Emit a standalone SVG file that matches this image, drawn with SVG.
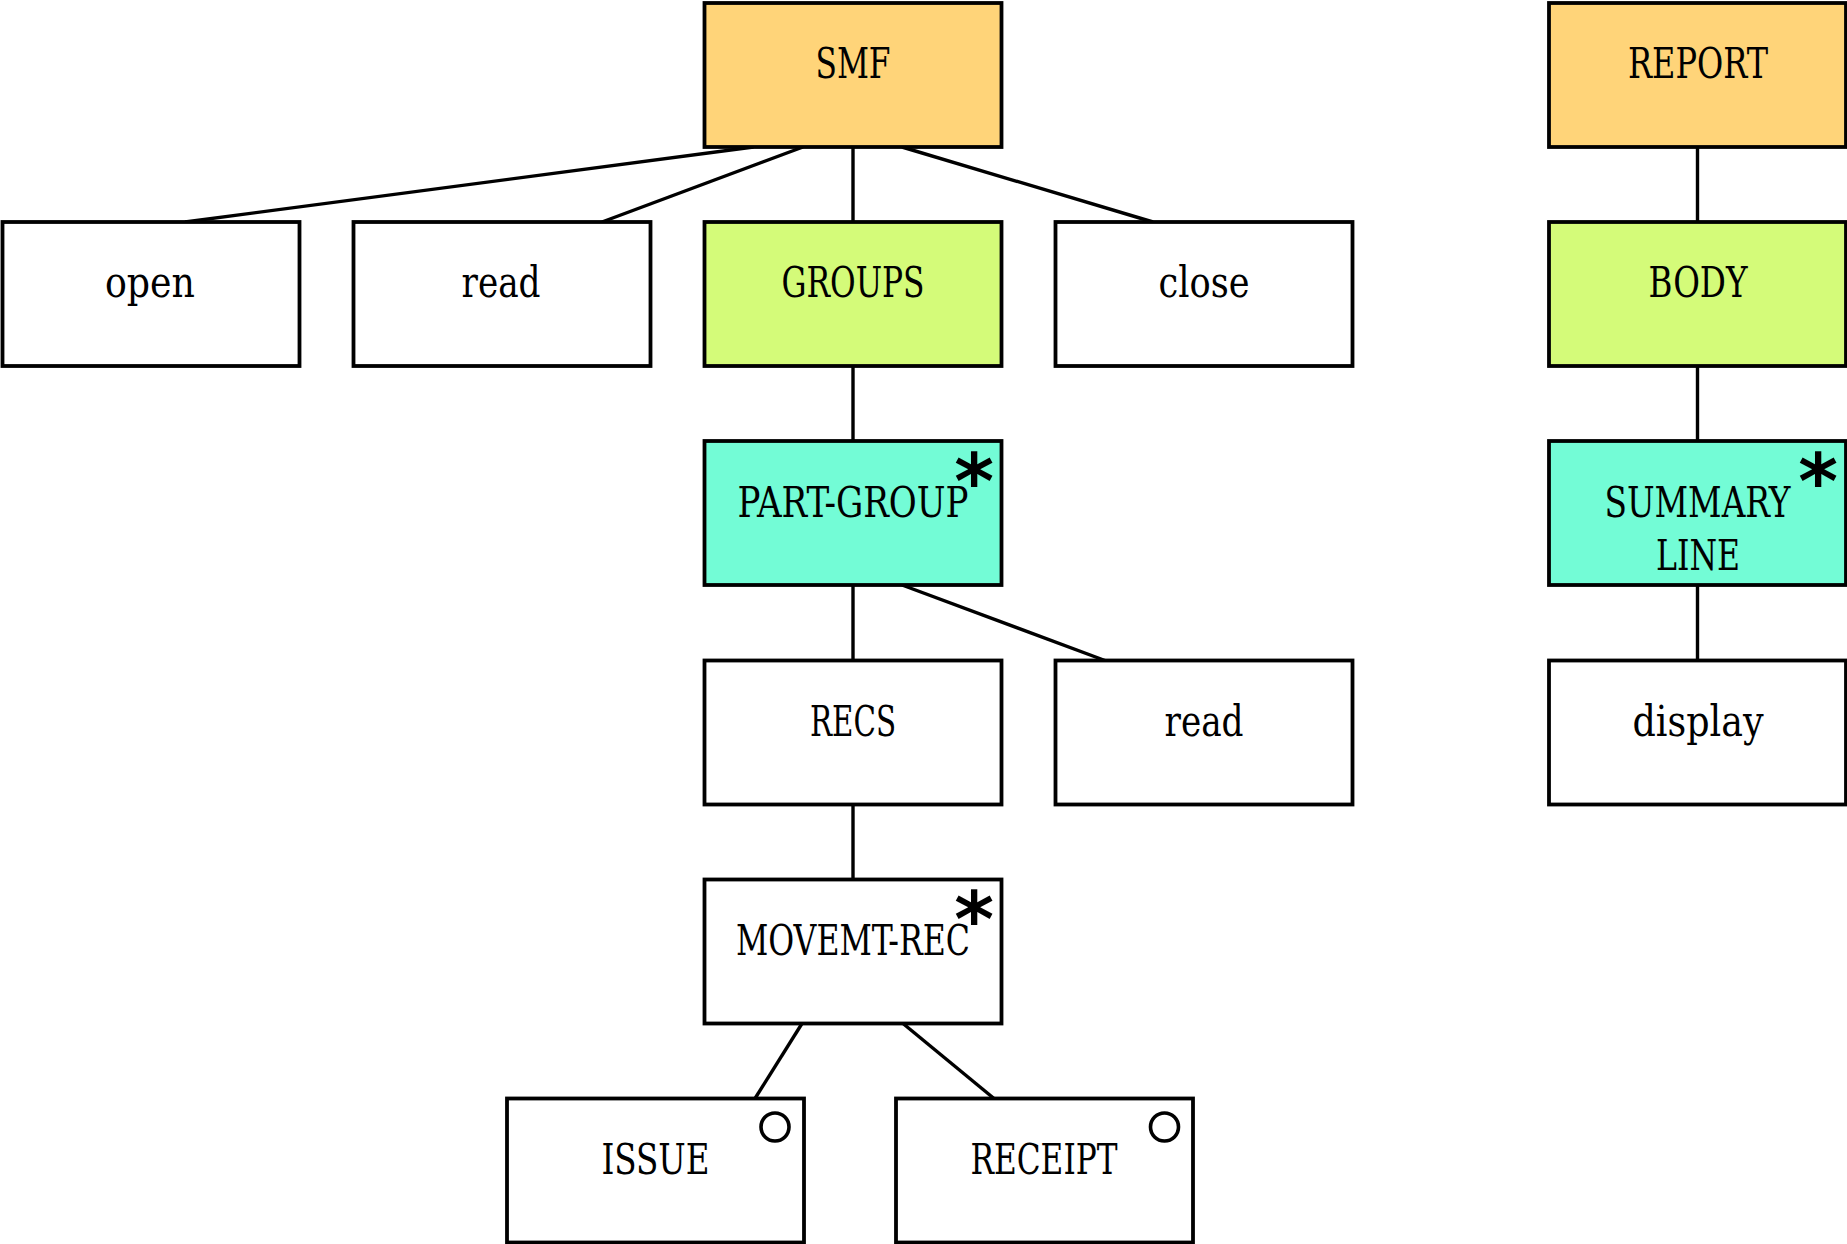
<svg xmlns="http://www.w3.org/2000/svg" width="1847" height="1244" viewBox="0 0 1847 1244">
<style>
.box{stroke:#000;stroke-width:3.8}
.w{fill:#fff}
.o{fill:#FFD479}
.g{fill:#D4FB79}
.t{fill:#73FCD6}
.lbl{font-family:"DejaVu Serif Condensed","DejaVu Serif","Liberation Serif",serif;font-stretch:condensed;font-size:42px;fill:#000;text-anchor:middle}
.ast{font-family:"DejaVu Sans","Liberation Sans",sans-serif;font-size:76px;font-weight:bold;fill:#000;text-anchor:middle}
.opt{fill:none;stroke:#000;stroke-width:3.6}
#connectors line{stroke:#000;stroke-width:3.4}
</style>
<rect width="1847" height="1244" fill="#fff"/>
<g id="connectors">
<line x1="753.5" y1="147" x2="185" y2="222"/>
<line x1="803" y1="147" x2="602" y2="222"/>
<line x1="853" y1="147" x2="853" y2="222"/>
<line x1="902" y1="147" x2="1153" y2="222"/>
<line x1="853" y1="366" x2="853" y2="441"/>
<line x1="853" y1="585" x2="853" y2="660.5"/>
<line x1="902" y1="585" x2="1105" y2="660.5"/>
<line x1="853" y1="804.5" x2="853" y2="879.5"/>
<line x1="802" y1="1023.5" x2="755" y2="1098.5"/>
<line x1="903" y1="1023.5" x2="994" y2="1098.5"/>
<line x1="1697.5" y1="147" x2="1697.5" y2="222"/>
<line x1="1697.5" y1="366" x2="1697.5" y2="441"/>
<line x1="1697.5" y1="585" x2="1697.5" y2="660.5"/>
</g>
<g id="smf"><rect class="box o" x="704.5" y="3" width="297" height="144"/><text class="lbl" x="853" y="78" textLength="75" lengthAdjust="spacingAndGlyphs">SMF</text></g>
<g id="open"><rect class="box w" x="2.5" y="222" width="297" height="144"/><text class="lbl" x="150" y="297" textLength="90" lengthAdjust="spacingAndGlyphs">open</text></g>
<g id="read1"><rect class="box w" x="353.5" y="222" width="297" height="144"/><text class="lbl" x="501" y="297" textLength="79" lengthAdjust="spacingAndGlyphs">read</text></g>
<g id="groups"><rect class="box g" x="704.5" y="222" width="297" height="144"/><text class="lbl" x="853" y="297" textLength="143" lengthAdjust="spacingAndGlyphs">GROUPS</text></g>
<g id="close"><rect class="box w" x="1055.5" y="222" width="297" height="144"/><text class="lbl" x="1204" y="297" textLength="91" lengthAdjust="spacingAndGlyphs">close</text></g>
<g id="part-group"><rect class="box t" x="704.5" y="441" width="297" height="144"/><text class="lbl" x="853" y="517" textLength="231" lengthAdjust="spacingAndGlyphs">PART-GROUP</text><text class="ast" x="974" y="508">*</text></g>
<g id="recs"><rect class="box w" x="704.5" y="660.5" width="297" height="144"/><text class="lbl" x="853" y="736" textLength="86" lengthAdjust="spacingAndGlyphs">RECS</text></g>
<g id="read2"><rect class="box w" x="1055.5" y="660.5" width="297" height="144"/><text class="lbl" x="1204" y="736" textLength="79" lengthAdjust="spacingAndGlyphs">read</text></g>
<g id="movemt-rec"><rect class="box w" x="704.5" y="879.5" width="297" height="144"/><text class="lbl" x="853" y="955" textLength="234" lengthAdjust="spacingAndGlyphs">MOVEMT-REC</text><text class="ast" x="974" y="946">*</text></g>
<g id="issue"><rect class="box w" x="507" y="1098.5" width="297" height="144"/><text class="lbl" x="655.5" y="1174" textLength="108" lengthAdjust="spacingAndGlyphs">ISSUE</text><circle class="opt" cx="775" cy="1127" r="14"/></g>
<g id="receipt"><rect class="box w" x="896" y="1098.5" width="297" height="144"/><text class="lbl" x="1044" y="1174" textLength="147" lengthAdjust="spacingAndGlyphs">RECEIPT</text><circle class="opt" cx="1164.5" cy="1127" r="14"/></g>
<g id="report"><rect class="box o" x="1549" y="3" width="297" height="144"/><text class="lbl" x="1698" y="78" textLength="140" lengthAdjust="spacingAndGlyphs">REPORT</text></g>
<g id="body"><rect class="box g" x="1549" y="222" width="297" height="144"/><text class="lbl" x="1698" y="297" textLength="99" lengthAdjust="spacingAndGlyphs">BODY</text></g>
<g id="summary-line"><rect class="box t" x="1549" y="441" width="297" height="144"/><text class="lbl" x="1697.5" y="517" textLength="186" lengthAdjust="spacingAndGlyphs">SUMMARY</text><text class="lbl" x="1698" y="570" textLength="84" lengthAdjust="spacingAndGlyphs">LINE</text><text class="ast" x="1818" y="508">*</text></g>
<g id="display"><rect class="box w" x="1549" y="660.5" width="297" height="144"/><text class="lbl" x="1698" y="736" textLength="131" lengthAdjust="spacingAndGlyphs">display</text></g>
</svg>
